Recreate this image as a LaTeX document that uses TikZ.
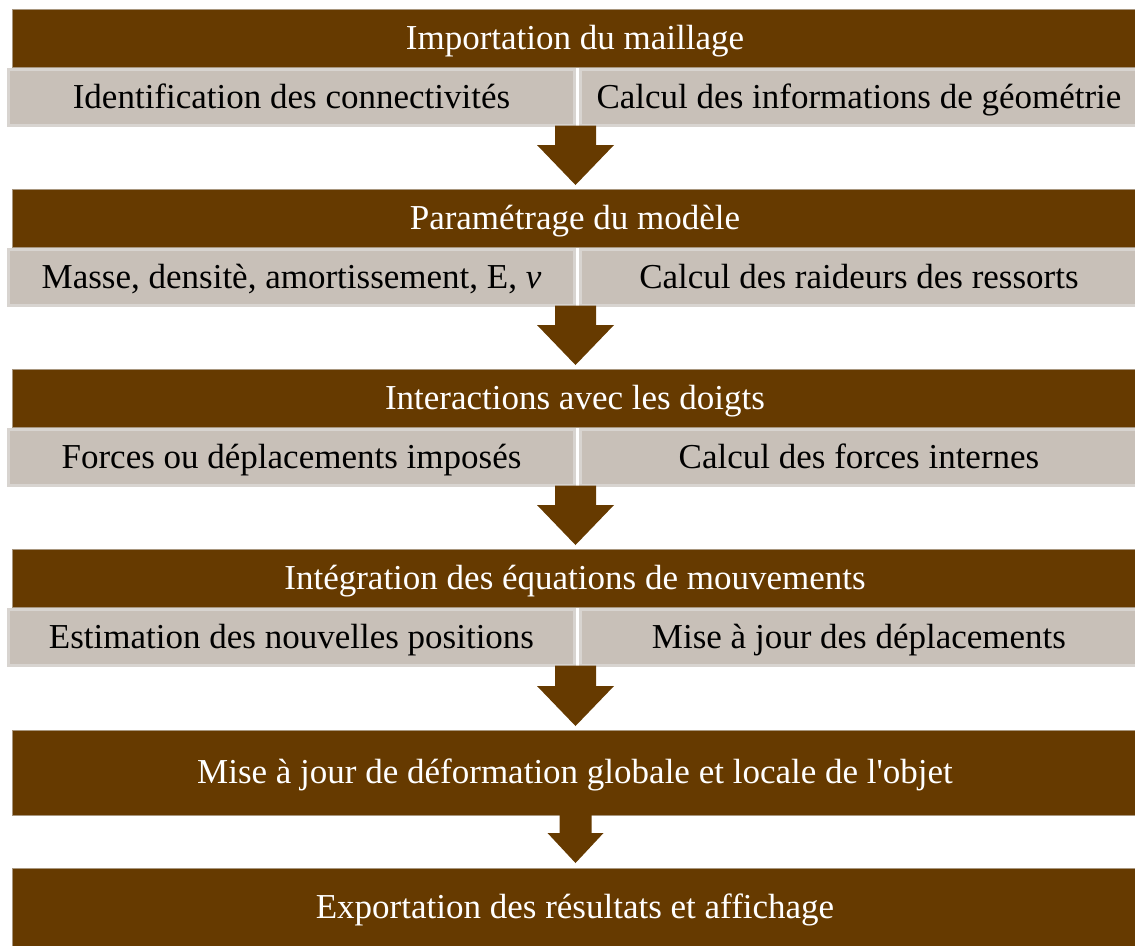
\documentclass[tikz,border=0pt]{standalone}
\usepackage{fontspec}
\setmainfont{Liberation Serif}
\newfontfamily\plainfont{Liberation Serif}
\usetikzlibrary{calc}
\definecolor{brn}{HTML}{663A00}
\definecolor{subfill}{HTML}{C8C0B8}
\definecolor{subline}{HTML}{D8D4D0}
\definecolor{barline}{HTML}{A8967E}
\tikzset{
  txt/.style={font=\fontsize{35}{40}\selectfont, text height=22pt, text depth=0pt},
  barbox/.style={txt, fill=brn, draw=barline, line width=0.8pt, text=white, inner sep=0pt, outer sep=0pt,
    minimum width=1126pt},
  subbox/.style={txt, fill=subfill, draw=subline, line width=3pt, inner sep=0pt, outer sep=0pt,
    minimum height=56pt},
  subleft/.style={subbox, minimum width=566pt},
  subright/.style={subbox, minimum width=557pt},
}
\newcommand\blockarrow[4]{% top, tip, stem half width, head half width ; shoulder 40 above tip
  \fill[brn] let \p1=(#1), \p2=(#2) in
    (\x2-#3,\y1) -- (\x2+#3,\y1) -- (\x2+#3,\y2+40pt) -- (\x2+#4,\y2+40pt) -- (\x2,\y2)
    -- (\x2-#4,\y2+40pt) -- (\x2-#3,\y2+40pt) -- cycle;}
\begin{document}
\begin{tikzpicture}[x=1pt,y=-1pt]
\useasboundingbox (0,0) rectangle (1135,945);
% row 1
\node[barbox, minimum height=58pt] (b1) at (575,38) {Importation du maillage};
\node[subleft] (s1l) at (291.5,97.5) {Identification des connectivités};
\node[subright] (s1r) at (859,97.5) {Calcul des informations de géométrie};
% row 2
\node[barbox, minimum height=58pt] (b2) at (575,218) {Paramétrage du modèle};
\node[subleft] (s2l) at (291.5,277.5) {Masse, densitè, amortissement, E, \textit{v}};
\node[subright] (s2r) at (859,277.5) {Calcul des raideurs des ressorts};
% row 3
\node[barbox, minimum height=58pt] (b3) at (575,398) {Interactions avec les doigts};
\node[subleft] (s3l) at (291.5,457.5) {Forces ou déplacements imposés};
\node[subright] (s3r) at (859,457.5) {Calcul des forces internes};
% row 4
\node[barbox, minimum height=58pt] (b4) at (575,578) {Intégration des équations de mouvements};
\node[subleft] (s4l) at (291.5,637.5) {Estimation des nouvelles positions};
\node[subright] (s4r) at (859,637.5) {Mise à jour des déplacements};
% row 5, 6
\node[barbox, minimum height=85pt] (b5) at (575,772.5) {Mise à jour de déformation globale et locale de l{\plainfont '}objet};
\node[barbox, minimum height=78pt] (b6) at (575,907) {Exportation des résultats et affichage};
% arrows
\coordinate (t1) at ($(b2.north)+(0.5,-4)$);
\coordinate (t2) at ($(b3.north)+(0.5,-4)$);
\coordinate (t3) at ($(b4.north)+(0.5,-4)$);
\coordinate (t4) at ($(b5.north)+(0.5,-4)$);
\coordinate (t5) at ($(b6.north)+(0.5,-5)$);
\blockarrow{s1l.south east}{t1}{20.5pt}{38.5pt}
\blockarrow{s2l.south east}{t2}{20.5pt}{38.5pt}
\blockarrow{s3l.south east}{t3}{20.5pt}{38.5pt}
\blockarrow{s4l.south east}{t4}{20.5pt}{38.5pt}
\fill[brn] let \p1=(b5.south), \p2=(t5) in
    (\x2-16pt,\y1) -- (\x2+16pt,\y1) -- (\x2+16pt,\y2+30pt) -- (\x2+28pt,\y2+30pt) -- (\x2,\y2)
    -- (\x2-28pt,\y2+30pt) -- (\x2-16pt,\y2+30pt) -- cycle;
\end{tikzpicture}
\end{document}
